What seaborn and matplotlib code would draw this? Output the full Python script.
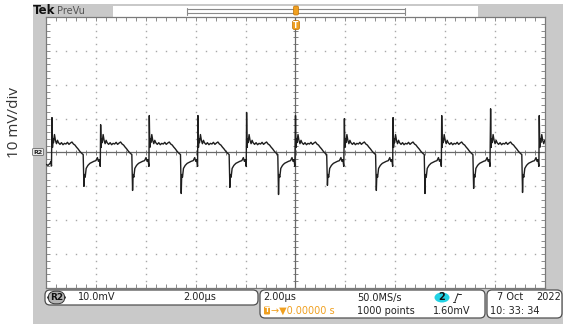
import numpy as np
import pandas as pd
import seaborn as sns
import matplotlib.pyplot as plt
from matplotlib.patches import FancyBboxPatch, Rectangle, Ellipse

# ---------------- data ----------------
# rising-spike times (us) and their tips (mV)
rise_times_us = [-9.76, -7.81, -5.86, -3.91, -1.96, 0.00, 1.96, 3.91, 5.86, 7.82, 9.77]
rise_peak_mv = [10.3, 8.2, 10.9, 10.9, 11.8, 10.9, 10.0, 10.3, 10.9, 12.9, 10.9]
# falling-spike tips (mV), 1.28 us after each rising spike
fall_peak_mv = [-10.0, -11.2, -12.1, -10.3, -12.4, -9.7, -11.2, -12.1, -10.6, -11.8]
fall_offset_us = 1.28
# plateau after the rising spike (offset us, mV)
plateau_offset_us = [0.02, 0.04, 0.06, 0.10, 0.14, 0.18, 0.22, 0.26, 0.32, 0.38, 0.44, 0.50,
                     0.56, 0.62, 0.68, 0.74, 0.80, 0.86, 0.92, 0.98, 1.04, 1.12, 1.20, 1.25]
plateau_mv = [1.5, 4.1, 2.9, 5.3, 3.5, 2.6, 3.6, 2.9, 2.4, 2.9, 2.3, 2.7,
              2.5, 3.0, 2.4, 2.8, 3.1, 2.5, 2.2, 1.6, 1.1, 0.3, -0.3, -0.6]
# recovery after the falling spike (offset us, mV)
recovery_offset_us = [1.30, 1.33, 1.37, 1.44, 1.52, 1.60, 1.68, 1.76, 1.82, 1.86, 1.90, 1.935]
recovery_mv = [-6.5, -7.3, -4.7, -3.8, -3.2, -2.9, -2.6, -2.4, -1.5, -2.6, -2.1, -4.1]
# start of the record before the first spike
lead_t_us = [-10.0, -9.92, -9.84, -9.80, -9.78]
lead_mv = [-3.5, -3.8, -3.2, -2.6, -4.0]

t_all, v_all = list(lead_t_us), list(lead_mv)
for k, t0 in enumerate(rise_times_us):
    pts = [(t0, rise_peak_mv[k])]
    pts += [(t0 + o, m) for o, m in zip(plateau_offset_us, plateau_mv)]
    if k < len(fall_peak_mv):
        pts.append((t0 + fall_offset_us, fall_peak_mv[k]))
        pts += [(t0 + o, m) for o, m in zip(recovery_offset_us, recovery_mv)]
    for t, m in pts:
        if t <= 10.0:
            t_all.append(t)
            v_all.append(m)
trace = pd.DataFrame({"t_us": t_all, "mv": v_all})

# ---------------- figure ----------------
sns.set_style("white")
plt.rcParams["font.family"] = ["DejaVu Sans"]

W, H = 563, 324
fig = plt.figure(figsize=(W / 100, H / 100), dpi=100)

bg = fig.add_axes([0, 0, 1, 1], zorder=0)
bg.set_xlim(0, W); bg.set_ylim(H, 0); bg.axis("off")

GRAY = "#c9c9c9"
bg.add_patch(Rectangle((33, 4), W - 33, H - 4, color=GRAY, lw=0))
# top status bar
bg.add_patch(Rectangle((113, 6), 365, 10.5, color="white", lw=0))
bg.plot([187, 405], [9.3, 9.3], color="#8a8a8a", lw=0.8)
bg.plot([187, 405], [12.5, 12.5], color="#8a8a8a", lw=0.8)
bg.plot([187, 187], [7.5, 14.5], color="#8a8a8a", lw=0.8)
bg.plot([405, 405], [7.5, 14.5], color="#8a8a8a", lw=0.8)
bg.text(33, 11, "Tek", fontsize=8.5, fontweight="bold", va="center", ha="left", color="#111111")
bg.text(57, 10.5, "PreVu", fontsize=7, va="center", ha="left", color="#555555")

# left annotation
fig.text(15 / W, 1 - 122 / H, "10 mV/div", rotation=90, fontsize=11, va="center", ha="center",
         color="#333333", family=["Open Sans", "DejaVu Sans"])

# ---------------- graticule axes ----------------
L, R, T, B = 46, 545, 17, 288
ax = fig.add_axes([L / W, 1 - B / H, (R - L) / W, (B - T) / H], zorder=1)
ax.set_facecolor("white")
ax.set_xlim(-10, 10)
ax.set_ylim(-40, 40)
FR = "#7a7a7a"
for s in ax.spines.values():
    s.set_color(FR); s.set_linewidth(0.9)
ax.set_xticks(np.arange(-10, 10.01, 2))
ax.set_xticks(np.arange(-10, 10.01, 0.4), minor=True)
ax.set_yticks(np.arange(-40, 40.01, 10))
ax.set_yticks(np.arange(-40, 40.01, 2), minor=True)
ax.tick_params(which="both", direction="in", top=True, right=True, bottom=True, left=True,
               length=3, width=0.6, color=FR, labelleft=False, labelbottom=False)

DOT = "#a8a8a8"
for tx in np.arange(-8, 8.01, 2):
    if abs(tx) < 1e-9:
        continue
    ys = np.arange(-38, 38.01, 2)
    ax.plot(np.full_like(ys, tx), ys, ls="none", marker="s", ms=1.0, mew=0, color=DOT)
for my in np.arange(-30, 30.01, 10):
    if abs(my) < 1e-9:
        continue
    xs = np.arange(-9.6, 9.61, 0.4)
    ax.plot(xs, np.full_like(xs, my), ls="none", marker="s", ms=1.0, mew=0, color=DOT)

CL = "#6a6a6a"
ax.axhline(0, color=CL, lw=0.9, zorder=2)
ax.axvline(0, color=CL, lw=0.9, zorder=2)
ax.vlines(np.arange(-9.6, 9.61, 0.4), -0.7, 0.7, color=CL, lw=0.6, zorder=2)
ax.hlines(np.arange(-38, 38.01, 2), -0.09, 0.09, color=CL, lw=0.6, zorder=2)

sns.lineplot(data=trace, x="t_us", y="mv", ax=ax, color="#1e1e1e", lw=1.0,
             estimator=None, sort=False, zorder=3)
ax.set_xlabel(""); ax.set_ylabel("")

# ---------------- foreground overlay ----------------
fg = fig.add_axes([0, 0, 1, 1], zorder=4)
fg.set_xlim(0, W); fg.set_ylim(H, 0); fg.axis("off"); fg.patch.set_alpha(0)

ORANGE = "#f0a020"
# trigger markers
fg.add_patch(FancyBboxPatch((293.5, 6), 5, 9, boxstyle="round,pad=0,rounding_size=1.5",
                            fc=ORANGE, ec="#c07000", lw=0.5))
fg.add_patch(FancyBboxPatch((292.5, 20.5), 7, 9, boxstyle="round,pad=0,rounding_size=2",
                            fc=ORANGE, ec="#c07000", lw=0.5))
fg.text(296, 25, "T", fontsize=5.5, color="white", ha="center", va="center", fontweight="bold")
# channel marker in left strip
fg.text(38, 152, "R2", fontsize=4.5, ha="center", va="center", fontweight="bold", color="#222222",
        bbox=dict(boxstyle="round,pad=0.15", fc="#e8e8e8", ec="#555555", lw=0.5))

# readout boxes
BOXE = "#505050"
def rbox(x, y, w, h):
    fg.add_patch(FancyBboxPatch((x, y), w, h, boxstyle="round,pad=0,rounding_size=5",
                                fc="white", ec=BOXE, lw=0.9))

rbox(45, 290, 213, 15)
rbox(260, 290, 225, 28)
rbox(487, 290, 75, 28)

FS = 7
TXT = "#222222"
fg.text(56.5, 297.5, "R2", fontsize=6.5, ha="center", va="center", fontweight="bold", color="#111111",
        bbox=dict(boxstyle="round,pad=0.2,rounding_size=0.8", fc="#b4b4b4", ec="#333333", lw=0.7))
fg.text(78, 297.5, "10.0mV", fontsize=FS, ha="left", va="center", color=TXT)
fg.text(183, 297.5, "2.00μs", fontsize=FS, ha="left", va="center", color=TXT)

fg.text(263, 297.5, "2.00μs", fontsize=FS, ha="left", va="center", color=TXT)
fg.text(357, 297.5, "50.0MS/s", fontsize=FS, ha="left", va="center", color=TXT)
fg.add_patch(Ellipse((442, 297.5), 15, 10, fc="#22d2e4", ec="none"))
fg.text(442, 297.5, "2", fontsize=FS, ha="center", va="center", color="#111111", fontweight="bold")
fg.plot([452.5, 455], [301.5, 301.5], color=TXT, lw=0.7)
fg.plot([455, 458], [301.5, 293.5], color=TXT, lw=0.7)
fg.plot([458, 460.5], [293.5, 293.5], color=TXT, lw=0.7)

fg.add_patch(FancyBboxPatch((264, 306.5), 6, 8, boxstyle="round,pad=0,rounding_size=1",
                            fc=ORANGE, ec="none"))
fg.text(267, 310.5, "T", fontsize=5, ha="center", va="center", color="white", fontweight="bold")
fg.text(271, 311, "→▼0.00000 s", fontsize=FS, ha="left", va="center", color=ORANGE)
fg.text(357, 311, "1000 points", fontsize=FS, ha="left", va="center", color=TXT)
fg.text(433, 311, "1.60mV", fontsize=FS, ha="left", va="center", color=TXT)

fg.text(497, 297.5, "7 Oct", fontsize=FS, ha="left", va="center", color=TXT)
fg.text(536, 297.5, "2022", fontsize=FS, ha="left", va="center", color=TXT)
fg.text(490, 311, "10: 33: 34", fontsize=FS, ha="left", va="center", color=TXT)

fig.savefig("out.png", dpi=100)
